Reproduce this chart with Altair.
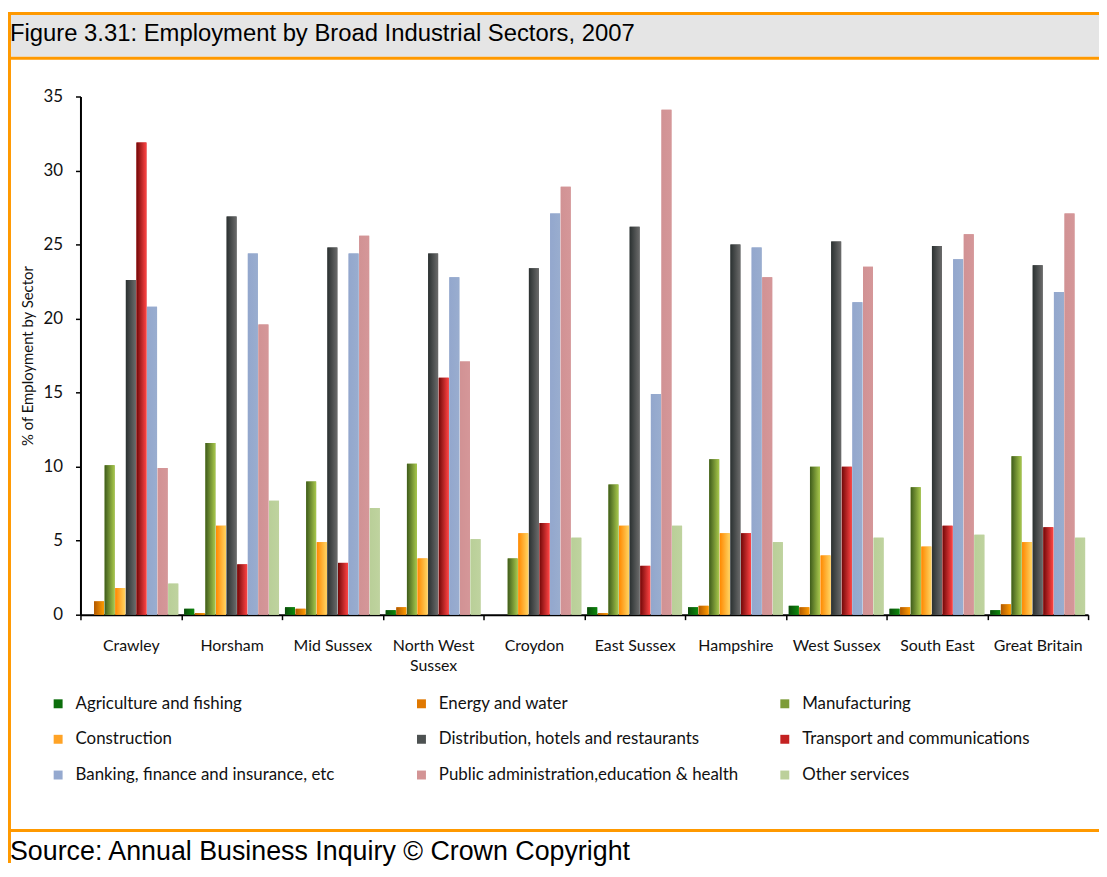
import altair as alt
import pandas as pd

places = ["Crawley", "Horsham", "Mid Sussex", "North West Sussex", "Croydon",
          "East Sussex", "Hampshire", "West Sussex", "South East", "Great Britain"]

sectors = ["Agriculture and fishing", "Energy and water", "Manufacturing",
           "Construction", "Distribution, hotels and restaurants",
           "Transport and communications", "Banking, finance and insurance, etc",
           "Public administration,education  & health", "Other services"]

agriculture = [0.0, 0.4, 0.5, 0.3, 0.0, 0.5, 0.5, 0.6, 0.4, 0.3]
energy = [0.9, 0.1, 0.4, 0.5, 0.0, 0.1, 0.6, 0.5, 0.5, 0.7]
manufacturing = [10.1, 11.6, 9.0, 10.2, 3.8, 8.8, 10.5, 10.0, 8.6, 10.7]
construction = [1.8, 6.0, 4.9, 3.8, 5.5, 6.0, 5.5, 4.0, 4.6, 4.9]
distribution = [22.6, 26.9, 24.8, 24.4, 23.4, 26.2, 25.0, 25.2, 24.9, 23.6]
transport = [31.9, 3.4, 3.5, 16.0, 6.2, 3.3, 5.5, 10.0, 6.0, 5.9]
banking = [20.8, 24.4, 24.4, 22.8, 27.1, 14.9, 24.8, 21.1, 24.0, 21.8]
public = [9.9, 19.6, 25.6, 17.1, 28.9, 34.1, 22.8, 23.5, 25.7, 27.1]
other = [2.1, 7.7, 7.2, 5.1, 5.2, 6.0, 4.9, 5.2, 5.4, 5.2]

series = [agriculture, energy, manufacturing, construction, distribution,
          transport, banking, public, other]

# legend (solid) colours and bar gradients (left -> right)
solid = ["#0b6e0b", "#e07800", "#7d9c38", "#ffa326", "#4d5151",
         "#c42222", "#95a9cf", "#d39495", "#bcd09b"]
gradients = [("#0a4a0a", "#0c8a0c"), ("#b05800", "#ff9c00"), ("#3f5c1b", "#a8c84c"),
             ("#ff8800", "#ffd462"), ("#2b3131", "#6b6b6b"), ("#720808", "#ff4444"),
             ("#93a7cd", "#99adcf"), ("#d19294", "#d59799"), ("#b9cf98", "#bfd39f")]

rows = []
for s, vals in zip(sectors, series):
    for p, v in zip(places, vals):
        rows.append({"place": p, "sector": s, "value": v})
df = pd.DataFrame(rows)

W, H = 1015, 522
FONT = "Lato"
ORANGE = "#ff9900"

x_enc = alt.X(
    "place:N", sort=places,
    scale=alt.Scale(domain=places, paddingInner=0, paddingOuter=0),
    axis=alt.Axis(title=None, labelAngle=0, tickBand="extent", tickSize=5,
                  tickColor="black", tickWidth=1.5, domainColor="black",
                  domainWidth=2, labelFont=FONT, labelFontSize=16,
                  labelColor="#111", labelPadding=18, labelLineHeight=20,
                  grid=False,
                  labelExpr="datum.label == 'North West Sussex' ? ['North West', 'Sussex'] : datum.label"),
)
xo_enc = alt.XOffset(
    "sector:N", sort=sectors,
    scale=alt.Scale(domain=sectors, paddingInner=0.06, paddingOuter=0.28),
)
y_enc = alt.Y(
    "value:Q",
    scale=alt.Scale(domain=[0, 35], nice=False),
    axis=alt.Axis(title="% of Employment by Sector", titleFont=FONT,
                  titleFontSize=15, titleFontWeight="normal", titleColor="#111",
                  titleX=-53, titleY=H / 2, titleAlign="center",
                  titleBaseline="middle",
                  values=[0, 5, 10, 15, 20, 25, 30, 35], labelFont=FONT,
                  labelFontSize=17, labelColor="#111", labelPadding=13,
                  tickSize=5, tickColor="black", tickWidth=1.5,
                  domainColor="black", domainWidth=2, grid=False),
)

base = alt.Chart(df).mark_bar().encode(
    x=x_enc, xOffset=xo_enc, y=y_enc,
    color=alt.Color(
        "sector:N", sort=sectors,
        scale=alt.Scale(domain=sectors, range=solid),
        legend=alt.Legend(orient="none", legendX=-31, legendY=603, columns=3,
                          direction="horizontal",
                          title=None, symbolType="square", symbolSize=81,
                          symbolStrokeWidth=0, labelFont=FONT, labelFontSize=17,
                          labelColor="#111", rowPadding=18, columnPadding=33,
                          gridAlign="all", labelOffset=9, labelLimit=400,
                          padding=0),
    ),
)

layers = [base]
for s, (c0, c1) in zip(sectors, gradients):
    grad = alt.LinearGradient(
        gradient="linear",
        stops=[alt.GradientStop(color=c0, offset=0),
               alt.GradientStop(color=c1, offset=1)],
        x1=0, x2=1, y1=0, y2=0,
    )
    layers.append(
        alt.Chart(df).transform_filter(alt.datum.sector == s)
        .mark_bar(color=grad)
        .encode(x=x_enc, xOffset=xo_enc, y=y_enc)
    )

one = alt.Data(values=[{"k": 1}])


def rect(x, x2, y, y2, color):
    return alt.Chart(one).mark_rect(color=color).encode(
        x=alt.value(x), x2=alt.value(x2), y=alt.value(y), y2=alt.value(y2))


deco = [
    rect(-73, 1026, -82, -40, "#e5e5e5"),
    rect(-73, 1026, -85, -82, ORANGE),
    rect(-73, 1026, -40, -37, ORANGE),
    rect(-73, 1026, 738, 741, ORANGE),
    rect(-73, -70, -85, 772, ORANGE),
    alt.Chart(one).mark_text(
        text="Figure 3.31: Employment by Broad Industrial Sectors, 2007",
        font="Liberation Sans", fontSize=24, align="left", baseline="middle",
        color="#000").encode(x=alt.value(-71), y=alt.value(-63)),
    alt.Chart(one).mark_text(
        text="Source: Annual Business Inquiry \u00a9 Crown Copyright",
        font="Liberation Sans", fontSize=27, align="left", baseline="middle",
        color="#000").encode(x=alt.value(-71), y=alt.value(761)),
]

chart = alt.layer(*deco, *layers).properties(
    width=W, height=H,
    background="white",
    autosize=alt.AutoSizeParams(type="none"),
    padding={"left": 73, "top": 86, "right": 11, "bottom": 250},
).configure_view(stroke="transparent", strokeWidth=0).configure_axis(grid=False)

chart.save("out.html", embed_options={"renderer": "svg", "actions": False})
